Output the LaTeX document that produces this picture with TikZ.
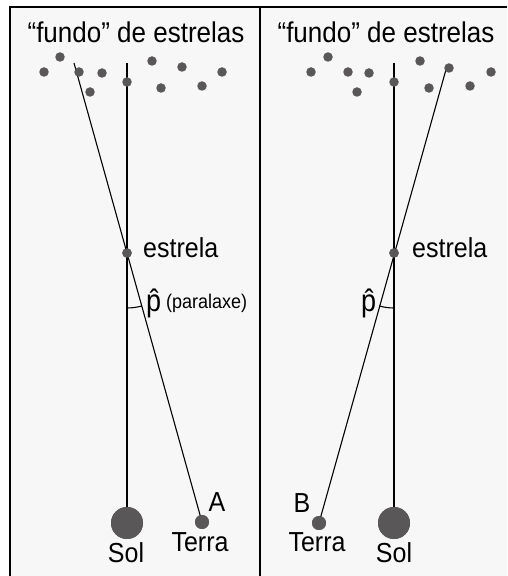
\documentclass[tikz,border=0pt]{standalone}
\usepackage{fontspec}
\setmainfont{Liberation Sans}
\definecolor{dotgray}{HTML}{595757}
\definecolor{bggray}{HTML}{F7F7F7}
\newcommand{\tallt}[1]{\scalebox{1}[1.1]{#1}}
\tikzset{
  frameline/.style={line width=2.4pt, black},
  ray/.style={line width=1.1pt, black},
  star/.style={circle, fill=dotgray, inner sep=0pt, minimum size=9.5pt},
  sunbody/.style={circle, fill=dotgray, inner sep=0pt, minimum size=32pt},
  earthbody/.style={circle, fill=dotgray, inner sep=0pt, minimum size=14pt},
  lbl/.style={inner sep=0pt, anchor=base, font=\fontsize{25}{30}\selectfont},
  hdr/.style={inner sep=0pt, anchor=base, font=\fontsize{26}{31}\selectfont},
  small/.style={inner sep=0pt, anchor=base west, font=\fontsize{18}{22}\selectfont},
}
\begin{document}
\begin{tikzpicture}[x=1pt,y=1pt]
\useasboundingbox (0,0) rectangle (507,576);
\fill[bggray] (10,0) rectangle (507,569);
% frame
\coordinate (fl0) at (10,0);
\coordinate (fl1) at (10,569);
\coordinate (fr1) at (507,569);
\coordinate (fm0) at (260,0);
\coordinate (fm1) at (260,569);
\draw[frameline] (fl0) -- (fl1) -- (fr1);
\draw[frameline] (fm0) -- (fm1);

% ---------- left panel ----------
\node[hdr] (hL) at (136,533) {\tallt{“fundo” de estrelas}};
\coordinate (topL) at (127,513);
\coordinate (slL) at (74,513);
\node[star] (estL) at (127,323) {};
\node[sunbody] (solL) at (127,53) {};
\node[earthbody] (terraA) at (202,54) {};
\draw[ray] (topL) -- (solL.center);
\draw[ray] (slL) -- (terraA.center);
\draw[ray] ([shift={(-90:55)}]estL.center) arc[start angle=-90, end angle=-74.4, radius=55];
\foreach \n/\x/\y in {a/44/504, b/60/519, c/79/504, d/102/503, e/90/484, f/127/494, g/152/515, h/161/488, i/182/509, j/202/490, k/222/504}
  \node[star] (sL\n) at (\x,\y) {};
\node[star] at (estL) {};
\node[sunbody] at (solL) {};
\node[earthbody] at (terraA) {};
\node[lbl, anchor=base west] (eL) at (143,318) {\tallt{estrela}};
\node[lbl, anchor=base west, font=\fontsize{27}{30}\selectfont] (pL) at (146,264) {\scalebox{1}[1.15]{p̂}};
\node[small] (parL) at (166,267) {\tallt{(paralaxe)}};
\node[lbl] (sollabL) at (126,13) {\tallt{Sol}};
\node[lbl] (terL) at (200,24) {\tallt{Terra}};
\node[lbl] (aL) at (217,64) {\tallt{A}};

% ---------- right panel ----------
\node[hdr] (hR) at (386,533) {\tallt{“fundo” de estrelas}};
\coordinate (topR) at (394,513);
\coordinate (slR) at (447,510);
\node[star] (estR) at (394,323) {};
\node[sunbody] (solR) at (394,53) {};
\node[earthbody] (terraB) at (319,53) {};
\draw[ray] (topR) -- (solR.center);
\draw[ray] (terraB.center) -- (slR);
\draw[ray] ([shift={(-90:55)}]estR.center) arc[start angle=-90, end angle=-105.6, radius=55];
\foreach \n/\x/\y in {a/311/504, b/328/519, c/348/504, d/369/503, e/357/484, f/394/494, g/420/515, h/429/488, i/449/508, j/470/490, k/491/504}
  \node[star] (sR\n) at (\x,\y) {};
\node[star] at (estR) {};
\node[sunbody] at (solR) {};
\node[earthbody] at (terraB) {};
\node[lbl, anchor=base west] (eR) at (412,318) {\tallt{estrela}};
\node[lbl, anchor=base west, font=\fontsize{27}{30}\selectfont] (pR) at (361,264) {\scalebox{1}[1.15]{p̂}};
\node[lbl] (solLabR) at (394,13) {\tallt{Sol}};
\node[lbl] (terR) at (317,24) {\tallt{Terra}};
\node[lbl] (bR) at (302,63) {\tallt{B}};
\end{tikzpicture}
\end{document}
